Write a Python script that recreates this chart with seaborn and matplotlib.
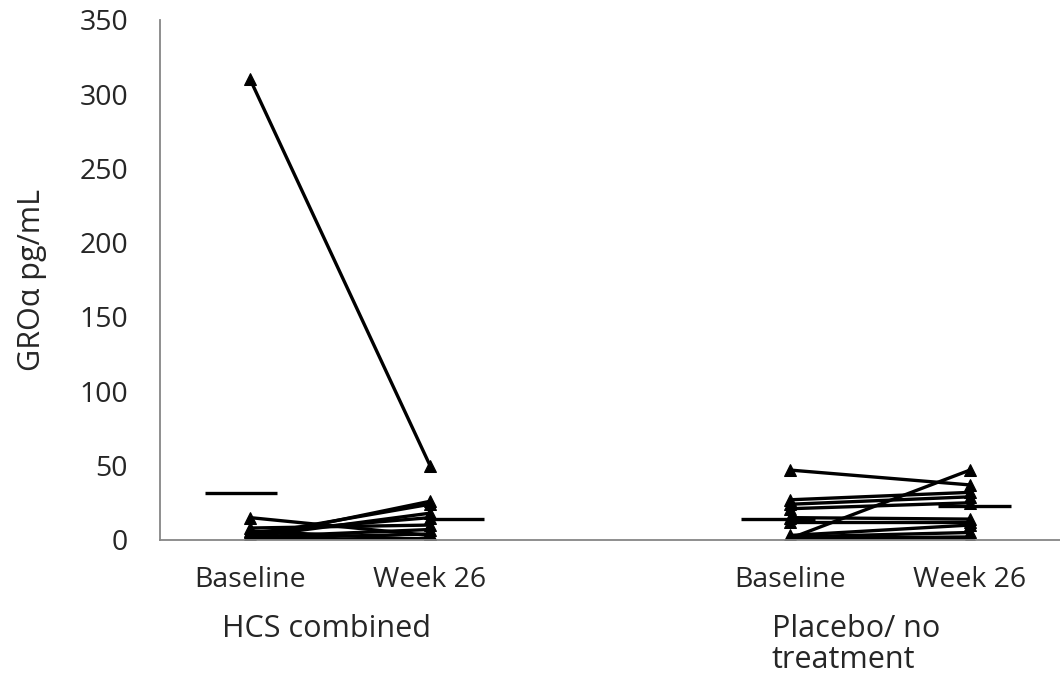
import matplotlib
matplotlib.use("Agg")
import matplotlib.pyplot as plt
import seaborn as sns
import pandas as pd

# ---- data ----
categories = ["Baseline", "Week 26", "", "Baseline", "Week 26"]
groups = ["HCS combined", "Placebo/ no\ntreatment"]

hcs_baseline = [310, 15, 1, 3, 2, 5, 8, 2, 0, 1, 6]
hcs_week26 = [50, 3, 26, 24, 18, 15, 10, 7, 1, 4, 0]

pla_baseline = [47, 1, 27, 24, 21, 15, 12, 3, 2, 1, 0, 2]
pla_week26 = [37, 47, 32, 29, 25, 14, 12, 10, 5, 2, 0, 1]

mean_values = [31.5, 14.3, 14.3, 23.0]   # HCS base, HCS wk26, Placebo base, Placebo wk26

yticks = [0, 50, 100, 150, 200, 250, 300, 350]

# ---- build long table ----
rows = []
for i, (b, w) in enumerate(zip(hcs_baseline, hcs_week26)):
    rows.append(dict(id=f"h{i}", pos=0, value=b))
    rows.append(dict(id=f"h{i}", pos=1, value=w))
for i, (b, w) in enumerate(zip(pla_baseline, pla_week26)):
    rows.append(dict(id=f"p{i}", pos=3, value=b))
    rows.append(dict(id=f"p{i}", pos=4, value=w))
df = pd.DataFrame(rows)

sns.set_style("white")
plt.rcParams["font.family"] = ["Open Sans", "DejaVu Sans"]

FS_TICK = 20.5
FS_GROUP = 22
FS_YLAB = 22

fig = plt.figure(figsize=(10.6, 6.8), dpi=100)
ax = fig.add_axes([0.151, 0.206, 0.849, 0.765])

sns.lineplot(data=df, x="pos", y="value", units="id", estimator=None,
             color="black", marker="^", markersize=8, markeredgecolor="black",
             linewidth=2.4, ax=ax, legend=False)

# mean bars
mean_pos = [0, 1, 3, 4]
mean_span = [(-0.25, 0.15), (0.0, 0.30), (-0.27, 0.14), (-0.18, 0.23)]
for p, m, (a, b) in zip(mean_pos, mean_values, mean_span):
    ax.hlines(m, p + a, p + b, color="black", linewidth=2.4, zorder=3)

ax.set_xlim(-0.5, 4.5)
ax.set_ylim(0, 350)
ax.set_yticks(yticks)
ax.set_yticklabels([str(t) for t in yticks], fontsize=FS_TICK)
ax.set_xticks(range(len(categories)))
ax.set_xticklabels(categories, fontsize=FS_TICK)
ax.tick_params(axis="both", length=0)
ax.tick_params(axis="y", pad=23)
ax.tick_params(axis="x", pad=19)
ax.set_xlabel("")
ax.set_ylabel("GROα pg/mL", fontsize=FS_YLAB)
ax.yaxis.set_label_coords(-0.126, 0.5)

for s in ["top", "right"]:
    ax.spines[s].set_visible(False)
for s in ["left", "bottom"]:
    ax.spines[s].set_color("#868686")
    ax.spines[s].set_linewidth(1.3)

# group labels (baseline positions in figure pixels)
fig.text(326 / 1060, 1 - 637 / 680, groups[0], ha="center", va="baseline",
         fontsize=FS_GROUP)
for k, line in enumerate(groups[1].split("\n")):
    fig.text(772 / 1060, 1 - (637 + 31 * k) / 680, line, ha="left",
             va="baseline", fontsize=FS_GROUP)

fig.savefig("out.png", dpi=100)
